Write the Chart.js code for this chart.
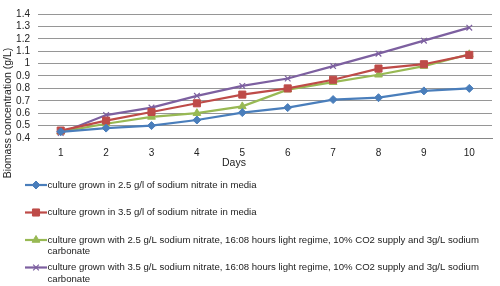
<!DOCTYPE html>
<html>
<head>
<meta charset="utf-8">
<script src="https://cdn.jsdelivr.net/npm/chart.js@4/dist/chart.umd.min.js"></script>
<style>
  html, body { margin: 0; padding: 0; background: #fff; }
  #wrap { width: 500px; height: 286px; position: relative; }
</style>
</head>
<body>
<div id="wrap"><canvas id="biomassChart"></canvas></div>
<script>
// Data
const days = ['1', '2', '3', '4', '5', '6', '7', '8', '9', '10'];
const nitrate25 = [0.45, 0.48, 0.50, 0.545, 0.605, 0.645, 0.71, 0.725, 0.78, 0.80];
const nitrate35 = [0.46, 0.54, 0.61, 0.68, 0.75, 0.80, 0.87, 0.96, 0.995, 1.07];
const nitrate25Co2 = [0.45, 0.515, 0.57, 0.60, 0.655, 0.79, 0.85, 0.91, 0.98, 1.075];
const nitrate35Co2 = [0.44, 0.585, 0.645, 0.74, 0.82, 0.88, 0.98, 1.08, 1.185, 1.29];
const yTicks = [0.4, 0.5, 0.6, 0.7, 0.8, 0.9, 1, 1.1, 1.2, 1.3, 1.4];

const seriesNames = [
  'culture grown in 2.5 g/l of sodium nitrate in media',
  'culture grown in 3.5 g/l of sodium nitrate in media',
  'culture grown with 2.5 g/L sodium nitrate, 16:08 hours light regime, 10% CO2 supply and 3g/L sodium carbonate',
  'culture grown with 3.5 g/L sodium nitrate, 16:08 hours light regime, 10% CO2 supply and 3g/L sodium carbonate'
];

const FONT = 'Liberation Sans, Arial, sans-serif';

function makeSet(label, data, color, style, radius) {
  return {
    label: label,
    data: data,
    borderColor: color,
    backgroundColor: color,
    pointBackgroundColor: color,
    pointBorderColor: color,
    pointStyle: style,
    pointRadius: radius,
    pointBorderWidth: style === 'crossRot' ? 1.2 : 1,
    borderWidth: 2.2,
    tension: 0,
    fill: false
  };
}

// draws the wrapped legend below the plot + axis titles
const extrasPlugin = {
  id: 'extras',
  afterDraw(chart) {
    const ctx = chart.ctx;
    ctx.save();

    // axis titles
    ctx.fillStyle = '#222';
    ctx.font = '10.5px ' + FONT;
    ctx.textAlign = 'center';
    ctx.textBaseline = 'middle';
    ctx.fillText('Days', 234, 163);
    ctx.save();
    ctx.translate(8, 113);
    ctx.rotate(-Math.PI / 2);
    ctx.fillText('Biomass concentration (g/L)', 0, 0);
    ctx.restore();

    // legend
    const rowsY = [185, 212.5, 240, 267.5];
    const lineH = 11.7;
    const maxW = 440;
    ctx.font = '9.6px ' + FONT;
    ctx.textAlign = 'left';
    chart.data.datasets.forEach((ds, i) => {
      const y = rowsY[i];
      ctx.strokeStyle = ds.borderColor;
      ctx.lineWidth = ds.borderWidth;
      ctx.beginPath();
      ctx.moveTo(25, y);
      ctx.lineTo(47, y);
      ctx.stroke();
      ctx.fillStyle = ds.pointBackgroundColor;
      ctx.strokeStyle = ds.pointBorderColor;
      ctx.lineWidth = ds.pointBorderWidth;
      Chart.helpers.drawPoint(ctx, {
        pointStyle: ds.pointStyle, radius: ds.pointRadius, borderWidth: ds.pointBorderWidth, rotation: 0
      }, 36, y);

      // wrap text
      const words = ds.label.split(' ');
      let line = '';
      let ly = y;
      ctx.fillStyle = '#222';
      words.forEach(w => {
        const test = line ? line + ' ' + w : w;
        if (ctx.measureText(test).width > maxW && line) {
          ctx.fillText(line, 47.5, ly);
          line = w;
          ly += lineH;
        } else {
          line = test;
        }
      });
      ctx.fillText(line, 47.5, ly);
    });
    ctx.restore();
  }
};

const ctx = document.getElementById('biomassChart').getContext('2d');
const biomassChart = new Chart(ctx, {
  type: 'line',
  data: {
    labels: days,
    datasets: [
      makeSet(seriesNames[0], nitrate25, '#4a7ebb', 'rectRot', 4),
      makeSet(seriesNames[1], nitrate35, '#be4b48', 'rect', 5),
      makeSet(seriesNames[2], nitrate25Co2, '#98b954', 'triangle', 4.5),
      makeSet(seriesNames[3], nitrate35Co2, '#7d60a0', 'crossRot', 4)
    ]
  },
  options: {
    responsive: true,
    maintainAspectRatio: false,
    animation: false,
    layout: {
      padding: { left: 0, right: 8, top: 7, bottom: 118 }
    },
    plugins: {
      legend: { display: false },
      tooltip: { enabled: false }
    },
    scales: {
      x: {
        offset: true,
        grid: { display: false, drawTicks: false },
        border: { color: '#868686', width: 1 },
        ticks: {
          color: '#222',
          padding: 9,
          maxRotation: 0,
          font: { family: FONT, size: 10 }
        },
        afterFit(scale) { scale.height = 30; }
      },
      y: {
        min: 0.4,
        max: 1.4,
        afterBuildTicks(scale) {
          scale.ticks = yTicks.map(v => ({ value: v }));
        },
        grid: { color: '#969696', lineWidth: 1, drawTicks: false },
        border: { display: false },
        ticks: {
          color: '#222',
          padding: 8,
          autoSkip: false,
          font: { family: FONT, size: 10 },
          callback: v => String(Number(v.toFixed(1)))
        },
        afterFit(scale) { scale.width = 38; }
      }
    }
  },
  plugins: [extrasPlugin]
});
</script>
</body>
</html>
